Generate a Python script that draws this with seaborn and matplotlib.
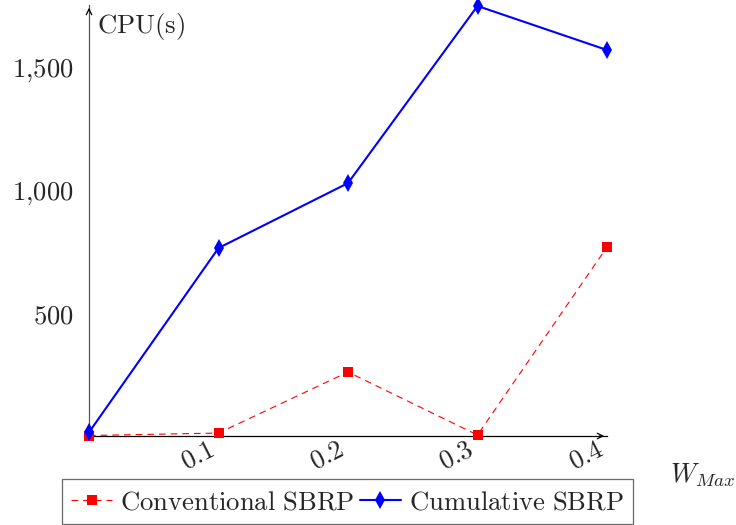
import pandas as pd
import seaborn as sns
from matplotlib import pyplot as plt
from matplotlib.transforms import ScaledTranslation

W_MAX = [0.0, 0.1, 0.2, 0.3, 0.4]
CONVENTIONAL = [2, 12, 260, 4, 768]
CUMULATIVE = [15, 764, 1028, 1748, 1569]

X_TICKS = [0.1, 0.2, 0.3, 0.4]
Y_TICKS = [500, 1000, 1500]
Y_TICK_LABELS = ["$500$", "$1{,}000$", "$1{,}500$"]

SERIES = ["Conventional SBRP", "Cumulative SBRP"]
FS = 19.2

sns.set_style("white")
plt.rcParams["mathtext.fontset"] = "cm"
plt.rcParams["font.family"] = ["DejaVu Serif"]

df = pd.DataFrame(
    {
        "w": W_MAX * 2,
        "cpu": CONVENTIONAL + CUMULATIVE,
        "series": [SERIES[0]] * len(W_MAX) + [SERIES[1]] * len(W_MAX),
    }
)

fig = plt.figure(figsize=(7.36, 5.25), dpi=100)
ax = fig.add_axes([89 / 736, 1 - 436 / 525, 518 / 736, 431 / 525])

sns.lineplot(
    data=df[df["series"] == SERIES[0]],
    x="w",
    y="cpu",
    color="#ff0000",
    linewidth=0.8,
    dashes=(6, 4.5),
    marker="s",
    markersize=7.5,
    markeredgewidth=0,
    label=r"$\mathrm{Conventional\ SBRP}$",
    clip_on=False,
    zorder=3,
    ax=ax,
)
sns.lineplot(
    data=df[df["series"] == SERIES[1]],
    x="w",
    y="cpu",
    color="#0000ff",
    linewidth=1.5,
    marker="d",
    markersize=9,
    markeredgewidth=0,
    label=r"$\mathrm{Cumulative\ SBRP}$",
    clip_on=False,
    zorder=4,
    ax=ax,
)

ax.set_xlim(0, 0.4)
ax.set_ylim(0, 1752)
ax.set_xlabel("")
ax.set_ylabel("")

for side in ("top", "right"):
    ax.spines[side].set_visible(False)
ax.spines["left"].set_color("#555555")
ax.spines["bottom"].set_color("black")
ax.spines["left"].set_linewidth(0.9)
ax.spines["bottom"].set_linewidth(0.9)

# arrow heads at the ends of the axes
ax.annotate("", xy=(1.0, 0), xytext=(0.98, 0), xycoords="axes fraction",
            arrowprops=dict(arrowstyle="->", color="black", lw=0.9))
ax.annotate("", xy=(0, 1.0), xytext=(0, 0.98), xycoords="axes fraction",
            arrowprops=dict(arrowstyle="->", color="black", lw=0.9))

ax.set_xticks(X_TICKS)
ax.set_yticks(Y_TICKS)
ax.tick_params(axis="both", direction="inout", length=8, width=0.7, color="#999999")
ax.tick_params(axis="x", pad=4.3)
ax.tick_params(axis="y", pad=7)
ax.set_xticklabels([f"${t:.1f}$" for t in X_TICKS], rotation=27, ha="right",
                   va="center", rotation_mode="anchor", fontsize=FS)
ax.set_yticklabels(Y_TICK_LABELS, fontsize=FS)
# pgfplots-like east anchor: nudge rotated labels to the left of the tick
shift = ScaledTranslation(-5.5 / 100, 0, fig.dpi_scale_trans)
for lbl in ax.get_xticklabels():
    lbl.set_transform(lbl.get_transform() + shift)

ax.text(0.015, 0.985, r"$\mathrm{CPU(s)}$", transform=ax.transAxes,
        ha="left", va="top", fontsize=FS)
fig.text(670 / 736, 1 - 475 / 525, r"$W_{Max}$", ha="left", va="center", fontsize=FS)

leg = ax.legend(
    loc="center",
    bbox_to_anchor=(347.5 / 736, 1 - 501.5 / 525),
    bbox_transform=fig.transFigure,
    ncol=2,
    fontsize=FS,
    frameon=True,
    fancybox=False,
    edgecolor="#444444",
    handlelength=1.55,
    handletextpad=0.3,
    columnspacing=0.2,
    borderpad=0.35,
    borderaxespad=0,
)
leg.get_frame().set_linewidth(0.9)

fig.savefig("out.png", dpi=100)
